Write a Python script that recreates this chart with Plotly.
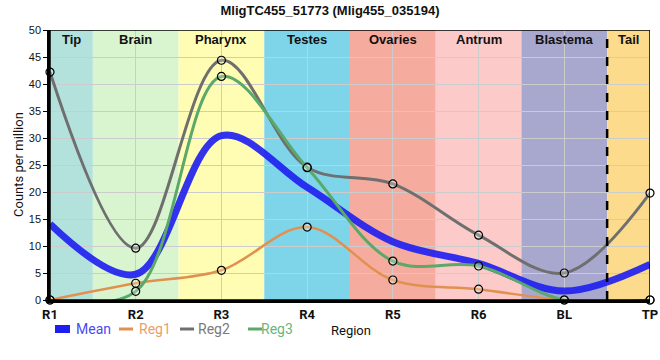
import plotly.graph_objects as go

regions = ["R1", "R2", "R3", "R4", "R5", "R6", "BL", "TP"]
reg1 = [0.0, 3.1, 5.5, 13.5, 3.7, 2.0, 0.0, 0.0]
reg2 = [42.2, 9.6, 44.4, 24.6, 21.5, 12.0, 5.0, 19.8]
reg3 = [0.0, 1.6, 41.4, 24.5, 7.2, 6.3, 0.0, 0.0]
mean = [(a + b + c) / 3 for a, b, c in zip(reg1, reg2, reg3)]

band_names = ["Tip", "Brain", "Pharynx", "Testes", "Ovaries", "Antrum", "Blastema", "Tail"]
band_colors = ["#b3e2dd", "#d8f5d0", "#fffdb3", "#7ed5ea", "#f5ab9d", "#fdcaca", "#a8a8cf", "#fddb8d"]
band_edges = [0, 0.5, 1.5, 2.5, 3.5, 4.5, 5.5, 6.5, 7]

series_names = ["Mean", "Reg1", "Reg2", "Reg3"]
series_colors = ["#1e1ef2", "#e0914f", "#6f6f6f", "#5aa86a"]
text_colors = ["#4a4af5", "#e8a06a", "#7a7a7a", "#6ab47a"]

xs = list(range(len(regions)))

# plot area in pixels: x 50..650, y 30..300
L, R, T, B = 50, 10, 30, 60
PW, PH = 660 - L - R, 360 - T - B


def px(x):
    return (x - L) / PW


def py(y):
    return (360 - B - y) / PH


fig = go.Figure()

shapes = []
annotations = []
for i, (nm, col) in enumerate(zip(band_names, band_colors)):
    shapes.append(dict(type="rect", xref="x", yref="y", x0=band_edges[i], x1=band_edges[i + 1],
                       y0=0, y1=50, fillcolor=col, line_width=0, layer="below"))
    annotations.append(dict(x=(band_edges[i] + band_edges[i + 1]) / 2, y=48.2, xref="x", yref="y",
                            text="<b>" + nm + "</b>", showarrow=False,
                            font=dict(family="Arial", size=13, color="#111")))
shapes.append(dict(type="line", xref="x", yref="y", x0=6.5, x1=6.5, y0=0, y1=50,
                   line=dict(color="black", width=2.5, dash="dash"), layer="above"))
shapes.append(dict(type="rect", xref="x", yref="y", x0=0, x1=7, y0=0, y1=50,
                   line=dict(color="black", width=1.5), fillcolor="rgba(0,0,0,0)", layer="above"))

fig.add_trace(go.Scatter(x=xs, y=mean, mode="lines", line_shape="spline",
                         line=dict(color=series_colors[0], width=7), opacity=0.9,
                         name="Mean", showlegend=False, cliponaxis=False, hoverinfo="skip"))
marker = dict(symbol="circle", size=8, color="rgba(255,255,255,0.25)", line=dict(color="black", width=1.2))
for nm, vals, col, w in [("Reg1", reg1, series_colors[1], 2.5), ("Reg2", reg2, series_colors[2], 3),
                         ("Reg3", reg3, series_colors[3], 3)]:
    fig.add_trace(go.Scatter(x=xs, y=vals, mode="lines+markers", line_shape="spline",
                             line=dict(color=col, width=w), marker=marker,
                             name=nm, showlegend=False, cliponaxis=False))

# legend drawn manually (symbol + coloured text)
leg_y = 329
leg_sym = [(55, 70), (119, 133), (180, 194), (248, 262)]
leg_txt = [74, 137, 196, 259]
for i in range(4):
    x0, x1 = leg_sym[i]
    if i == 0:
        shapes.append(dict(type="rect", xref="paper", yref="paper", x0=px(x0), x1=px(x1),
                           y0=py(leg_y + 4), y1=py(leg_y - 4), fillcolor=series_colors[0],
                           line_width=0, layer="above"))
    else:
        shapes.append(dict(type="line", xref="paper", yref="paper", x0=px(x0), x1=px(x1),
                           y0=py(leg_y), y1=py(leg_y), line=dict(color=series_colors[i], width=3),
                           layer="above"))
    annotations.append(dict(x=px(leg_txt[i]), y=py(leg_y), xref="paper", yref="paper",
                            text=series_names[i], showarrow=False, xanchor="left", yanchor="middle",
                            font=dict(family="Roboto", size=14, color=text_colors[i])))

annotations.append(dict(x=px(351), y=py(331), xref="paper", yref="paper", text="Region", showarrow=False,
                        font=dict(family="Roboto", size=13, color="#111"), xanchor="center", yanchor="middle"))
annotations.append(dict(x=px(18), y=py(165), xref="paper", yref="paper", text="Counts per million",
                        showarrow=False, textangle=-90,
                        font=dict(family="Roboto", size=13, color="#111"), xanchor="center", yanchor="middle"))

fig.update_layout(
    width=660, height=360,
    margin=dict(l=L, r=R, t=T, b=B, autoexpand=False),
    paper_bgcolor="white", plot_bgcolor="white",
    title=dict(text="<b>MligTC455_51773 (Mlig455_035194)</b>", x=0.5, xanchor="center", y=0.972, yanchor="middle",
               font=dict(family="Arial", size=13, color="#111")),
    shapes=shapes, annotations=annotations,
    showlegend=False,
    xaxis=dict(range=[0, 7], tickvals=xs, ticktext=["<b>" + r + "</b>" for r in regions],
               showgrid=True, gridcolor="#cccccc", gridwidth=1, zeroline=False, automargin=False,
               showline=True, linecolor="black", linewidth=3, ticks="",
               tickfont=dict(family="Roboto", size=13, color="#111")),
    yaxis=dict(range=[0, 50], tickvals=list(range(0, 51, 5)), showgrid=True, gridcolor="#cccccc",
               gridwidth=1, zeroline=False, showline=True, linecolor="black", linewidth=2.5,
               ticks="outside", ticklen=4, tickcolor="black", automargin=False,
               tickfont=dict(family="Arial", size=11, color="#111")),
)

fig.write_html("out.html", config={"displayModeBar": False},
               post_script="document.body.style.margin='0';document.body.style.padding='0';")
